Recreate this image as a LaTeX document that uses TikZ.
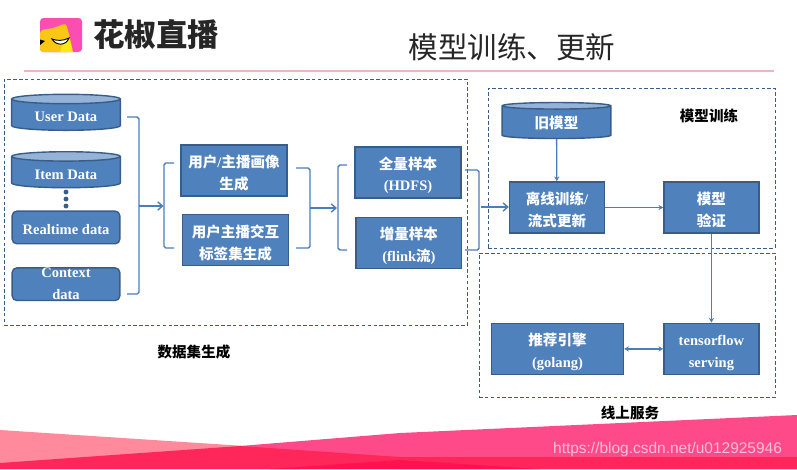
\documentclass[tikz,border=0pt]{standalone}
\usepackage{fontspec}
\setmainfont{Liberation Serif}
\setsansfont{Liberation Sans}
\newfontfamily\cjk{Noto Sans CJK SC}
\usetikzlibrary{positioning, arrows.meta, shapes.geometric, backgrounds}
\definecolor{boxblue}{HTML}{4F81BD}
\definecolor{boxedge}{HTML}{385D8A}
\definecolor{wireblue}{HTML}{4A7EBB}
\definecolor{capblue}{HTML}{95B3D7}

\begin{document}
\begin{tikzpicture}[
  x=0.03cm, y=-0.03cm,
  align=center,
  font=\bfseries\fontsize{12.4}{18.6}\selectfont,
  % Block styles
  box/.style={draw=boxedge, line width=1.2pt, rectangle, fill=boxblue, text=white, inner sep=0pt, text height=34pt, minimum width=2.85cm, minimum height=1.54cm},
  widebox/.style={box, minimum width=3.17cm},
  database/.style={cylinder, shape border rotate=90, shape aspect=0.15, draw=boxedge, line width=1.2pt, cylinder uses custom fill, cylinder body fill=boxblue, cylinder end fill=capblue, text=white, inner sep=0pt, text height=12pt, minimum width=3.26cm, minimum height=1.08cm},
  source/.style={draw=boxedge, line width=1.2pt, rectangle, rounded corners=4pt, fill=boxblue, text=white, inner sep=0pt, minimum width=3.23cm, minimum height=0.98cm},
  groupbox/.style={draw=boxedge, densely dashed, line width=0.6pt, rectangle, inner sep=0pt},
  caption/.style={font=\bfseries\cjk\fontsize{12.4}{15}\selectfont},
  % Arrow styles
  bracket/.style={draw=wireblue, line width=1.2pt, rounded corners=1.5pt},
  line/.style={draw=wireblue, line width=1.2pt, -{Straight Barb[length=4pt, width=7pt]}},
  thin line/.style={draw=wireblue, line width=1.1pt, -{Stealth[length=4pt, width=4.5pt]}},
  both line/.style={draw=wireblue, line width=1.1pt, {Stealth[length=4pt, width=4.5pt]}-{Stealth[length=4pt, width=4.5pt]}}
]
  \useasboundingbox (0,0) rectangle (797,469);

  % ==========================================
  % FOOTER BANDS AND HEADER
  % ==========================================
  \fill[fill={rgb,255:red,255;green,138;blue,155}] (0,430) -- (245,446) -- (300,469) -- (0,469) -- cycle;
  \fill[fill={rgb,255:red,255;green,74;blue,138}] (240,446) -- (400,433) -- (797,415) -- (797,469) -- (400,469) -- cycle;
  \fill[fill={rgb,255:red,255;green,38;blue,90}] (0,463) -- (240,446) -- (400,457) -- (797,457) -- (797,469) -- (0,469) -- cycle;
  \fill[fill={rgb,255:red,255;green,18;blue,78}] (270,469) -- (400,460) -- (540,469) -- cycle;

  \fill[fill={rgb,255:red,252;green,78;blue,178}, rounded corners=3pt] (40,18) rectangle (82,52);
  \fill[fill={rgb,255:red,250;green,200;blue,20}, rounded corners=3pt] (40,30) -- (54,28) -- (66,23) -- (70,38) -- (73,52) -- (40,52) -- cycle;
  \fill[fill={rgb,255:red,255;green,232;blue,20}] (62,46) -- (69,38) -- (73,52) -- (60,52) -- cycle;
  \fill[black] (40,39.5) -- (45,41) -- (40,45) -- cycle;
  \draw[black, line width=0.8pt, fill=white] (52,39) .. controls (57,41) and (63,41) .. (69,38) .. controls (66,46) and (56,46) .. (52,39) -- cycle;
  \node[font=\bfseries\cjk\fontsize{26.8}{30}\selectfont, text=black!85] (brand) at (156,35) {花椒直播};
  \node[font=\cjk\fontsize{25.2}{30}\selectfont, text=black!85] (title) at (512,47) {模型训练、更新};
  \draw[draw={rgb,255:red,238;green,181;blue,192}, line width=1pt] (24,71) -- (774,71);

  % ==========================================
  % DATASET GENERATION
  % ==========================================
  \node[database] (userdata) at (66,115) {User Data};
  \node[database, below=0.6cm of userdata] (itemdata) {Item Data};
  \node[source, below=0.66cm of itemdata, text height=12pt] (realtime) {Realtime data};
  \node[source, below=0.68cm of realtime, text height=26pt, text depth=0pt] (context) {Context\\data};
  \foreach \doty in {192, 199, 206}
    \fill[boxedge] (66,\doty) circle (2.1pt);

  \node[widebox] (portrait) at (234,170.5) {{\cjk 用户}/{\cjk 主播画像}\\{\cjk 生成}};
  \node[widebox, below=0.5cm of portrait, xshift=1.3pt] (interact) {{\cjk 用户主播交互}\\{\cjk 标签集生成}};

  \node[widebox] (fullset) at (408,172.5) {{\cjk 全量样本}\\(HDFS)};
  \node[widebox, below=0.53cm of fullset, xshift=0.8pt] (deltaset) {{\cjk 增量样本}\\(flink{\cjk 流})};

  % Brackets between the stages
  \coordinate (br_a) at (127,117);
  \coordinate (br_b) at (127,294);
  \coordinate (ar_a) at (139,206);
  \coordinate (ar_b) at (163.5,206);
  \draw[bracket] (br_a) -- (139,117) -- (139,294) -- (br_b);
  \draw[line] (ar_a) -- (ar_b);
  \coordinate (br_c) at (174,163);
  \coordinate (br_d) at (174,248);
  \draw[bracket] (br_c) -- (164,163) -- (164,248) -- (br_d);

  \coordinate (br_e) at (296,168);
  \coordinate (br_f) at (296,248);
  \coordinate (ar_c) at (310,208);
  \coordinate (ar_d) at (337,208);
  \draw[bracket] (br_e) -- (310,168) -- (310,248) -- (br_f);
  \draw[line] (ar_c) -- (ar_d);
  \coordinate (br_g) at (347,165);
  \coordinate (br_h) at (347,250);
  \draw[bracket] (br_g) -- (338,165) -- (338,250) -- (br_h);

  \coordinate (br_i) at (465,170);
  \coordinate (br_j) at (465,250);
  \coordinate (ar_e) at (481,207);
  \draw[bracket] (br_i) -- (479,170) -- (479,250) -- (br_j);

  % ==========================================
  % MODEL TRAINING AND ONLINE SERVICE
  % ==========================================
  \node[database] (oldmodel) at (556.5,122.5) {{\cjk 旧模型}};
  \node[box] (offline) at (557,207.5) {{\cjk 离线训练}/\\{\cjk 流式更新}};
  \node[box, right=1.74cm of offline] (verify) {{\cjk 模型}\\{\cjk 验证}};
  \node[box, below=2.66cm of verify] (serving) {tensorflow\\serving};
  \node[box, left=1.17cm of serving, minimum width=3.96cm] (engine) {{\cjk 推荐引擎}\\(golang)};

  \draw[line] (ar_e) -- (offline.west |- ar_e);
  \draw[thin line] (oldmodel) -- (offline);
  \draw[thin line] (offline) -- (verify);
  \draw[thin line] (verify) -- (serving);
  \draw[both line] (engine) -- (serving);

  % ==========================================
  % CONTEXT GROUPS
  % ==========================================
  \begin{scope}[on background layer]
    \node[groupbox, minimum width=13.89cm, minimum height=7.38cm] (data_group) at (236,202) {};
    \node[groupbox, minimum width=8.61cm, minimum height=4.8cm] (train_group) at (631.5,168) {};
    \node[groupbox, minimum width=8.88cm, minimum height=4.32cm] (serve_group) at (627,325) {};
  \end{scope}

  \node[caption] (data_label) at (194,352) {数据集生成};
  \node[caption] (train_label) at (709,116) {模型训练};
  \node[caption] (serve_label) at (630,413) {线上服务};

  \node[font=\sffamily\fontsize{13.2}{15}\selectfont, text=white, text opacity=0.65, anchor=east] (watermark) at (786,449) {https://blog.csdn.net/u012925946};

\end{tikzpicture}
\end{document}
